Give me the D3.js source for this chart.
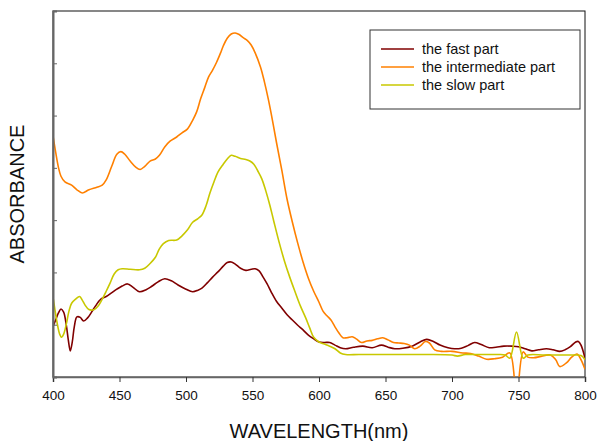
<!DOCTYPE html>
<html>
<head>
<meta charset="utf-8">
<script src="https://cdn.jsdelivr.net/npm/d3@7"></script>
<style>
  body { margin: 0; background: #fff; }
  svg { display: block; font-family: "Liberation Sans", Arial, sans-serif; }
</style>
</head>
<body>
<div id="chart"></div>
<script>
// ── Data (wavelength in nm, absorbance in arbitrary units) ──
const xTicks = [400, 450, 500, 550, 600, 650, 700, 750, 800];
const yTicks = [0, 1, 2, 3, 4, 5, 6, 7];

const fastPart = [
  [400, 0.96], [402, 1.09], [404, 1.22], [406, 1.30], [408, 1.24], [410, 0.99],
  [411.5, 0.71], [413, 0.50], [414.5, 0.67], [416, 0.96], [418, 1.15], [420.5, 1.14],
  [423, 1.07], [426, 1.13], [429, 1.24], [432, 1.36], [436, 1.49], [440, 1.54],
  [444, 1.61], [448, 1.68], [452, 1.74], [456, 1.78], [460, 1.72], [465, 1.63],
  [470, 1.67], [474, 1.73], [479, 1.82], [484, 1.88], [489, 1.84], [494, 1.76],
  [500, 1.68], [505, 1.63], [509, 1.66], [512, 1.70], [516, 1.80], [520, 1.91],
  [524, 2.01], [528, 2.12], [531, 2.19], [534, 2.20], [537, 2.16], [541, 2.08],
  [545, 2.04], [549, 2.06], [552, 2.07], [555, 2.03], [558, 1.91], [561, 1.78],
  [564, 1.63], [568, 1.45], [572, 1.32], [576, 1.19], [580, 1.09], [584, 0.99],
  [588, 0.90], [592, 0.80], [596, 0.73], [600, 0.67], [604, 0.66], [608, 0.66],
  [612, 0.61], [616, 0.56], [620, 0.54], [626, 0.57], [633, 0.59], [640, 0.56],
  [647, 0.61], [652, 0.57], [657, 0.54], [663, 0.55], [670, 0.59], [676, 0.67],
  [681, 0.72], [686, 0.68], [691, 0.61], [697, 0.56], [702, 0.54], [707, 0.55],
  [712, 0.60], [717, 0.66], [722, 0.62], [728, 0.56], [733, 0.57], [739, 0.59],
  [745, 0.59], [750, 0.58], [755, 0.54], [760, 0.50], [765, 0.52], [771, 0.54],
  [776, 0.52], [781, 0.49], [785, 0.52], [789, 0.58], [793, 0.67], [795, 0.68],
  [797, 0.61], [800, 0.36]
];

const intermediatePart = [
  [400, 4.61], [402, 4.30], [404, 4.02], [406, 3.84], [409, 3.73], [414, 3.67],
  [418, 3.58], [422, 3.52], [427, 3.58], [433, 3.63], [437, 3.67], [440, 3.77],
  [444, 4.02], [448, 4.26], [451, 4.31], [454, 4.26], [458, 4.13], [462, 4.02],
  [465.5, 3.97], [469, 4.03], [473, 4.13], [477, 4.17], [480, 4.24], [484, 4.40],
  [488, 4.51], [493, 4.59], [497, 4.67], [501, 4.74], [505, 4.91], [508, 5.07],
  [511, 5.32], [514, 5.53], [517, 5.74], [520, 5.87], [523, 6.02], [526, 6.20],
  [528, 6.33], [531, 6.48], [534, 6.56], [537, 6.58], [540, 6.55], [543, 6.49],
  [546, 6.44], [549, 6.35], [552, 6.20], [556, 5.93], [559, 5.64], [562, 5.30],
  [565, 4.91], [568, 4.49], [572, 3.96], [576, 3.40], [580, 2.96], [584, 2.56],
  [588, 2.20], [592, 1.89], [596, 1.64], [600, 1.43], [603, 1.26], [606, 1.17],
  [609, 1.09], [612, 0.96], [615, 0.84], [618, 0.75], [621, 0.75], [625, 0.77],
  [628, 0.73], [632, 0.66], [636, 0.69], [640, 0.70], [644, 0.73], [648, 0.75],
  [652, 0.71], [656, 0.66], [660, 0.65], [664, 0.64], [668, 0.61], [672, 0.54],
  [676, 0.59], [680, 0.68], [683, 0.65], [687, 0.52], [692, 0.49], [700, 0.49],
  [708, 0.46], [714, 0.45], [720, 0.40], [726, 0.34], [732, 0.35], [738, 0.38],
  [743.5, 0.46], [748.5, -0.35], [753.5, 0.48], [757, 0.38], [762, 0.37], [766, 0.39],
  [774, 0.42], [778, 0.33], [781, 0.20], [786, 0.27], [790, 0.38], [794, 0.44],
  [797, 0.33], [800, 0.15]
];

const slowPart = [
  [400, 1.53], [401.5, 1.28], [403, 1.05], [405, 0.82], [406.5, 0.76], [408, 0.82],
  [410, 1.01], [412, 1.26], [414, 1.41], [417, 1.49], [420, 1.54], [422, 1.47],
  [424, 1.38], [427, 1.29], [431, 1.29], [434, 1.36], [437, 1.49], [440, 1.64],
  [443, 1.80], [446, 1.97], [449, 2.05], [452, 2.07], [458, 2.06], [465, 2.05],
  [469, 2.08], [473, 2.17], [477, 2.29], [480, 2.45], [483, 2.55], [487, 2.61],
  [493, 2.62], [497, 2.70], [501, 2.81], [505, 2.96], [509, 3.03], [512, 3.10],
  [515, 3.27], [518, 3.52], [521, 3.73], [524, 3.92], [528, 4.07], [531, 4.17],
  [534, 4.24], [537, 4.22], [541, 4.18], [545, 4.16], [548, 4.13], [551, 4.07],
  [554, 3.94], [557, 3.79], [560, 3.56], [563, 3.29], [566, 2.98], [570, 2.58],
  [574, 2.22], [578, 1.91], [582, 1.63], [586, 1.36], [590, 1.13], [593, 0.94],
  [596, 0.76], [600, 0.67], [604, 0.63], [608, 0.59], [612, 0.54], [616, 0.46],
  [620, 0.43], [630, 0.43], [650, 0.43], [680, 0.43], [700, 0.42], [704, 0.40],
  [710, 0.43], [720, 0.43], [735, 0.43], [740, 0.42], [743.5, 0.36], [748.5, 0.86],
  [753.5, 0.36], [757, 0.42], [770, 0.42], [790, 0.42], [797, 0.41], [800, 0.33]
];

const seriesNames = ['the fast part', 'the intermediate part', 'the slow part'];
const seriesColors = ['#800000', '#ff8000', '#c8c800'];
const seriesData = [fastPart, intermediatePart, slowPart];

// ── Layout ──
const W = 597, H = 441;
const margin = { top: 11, right: 12, bottom: 64, left: 53 };
const width = W - margin.left - margin.right;
const height = H - margin.top - margin.bottom;

const svg = d3.select('#chart').append('svg')
  .attr('width', W).attr('height', H);

const g = svg.append('g')
  .attr('transform', `translate(${margin.left},${margin.top})`);

const x = d3.scaleLinear().domain([400, 800]).range([0, width]);
const y = d3.scaleLinear().domain([0, 7]).range([height, 0]);

g.append('clipPath').attr('id', 'clip')
  .append('rect').attr('width', width).attr('height', height);

// Frame (top + right)
g.append('rect')
  .attr('width', width).attr('height', height)
  .attr('fill', 'none').attr('stroke', '#111').attr('stroke-width', 1);

// Curves
const lineGen = d3.line()
  .x(d => x(d[0])).y(d => y(d[1]))
  .curve(d3.curveCatmullRom.alpha(0.5));

seriesData.forEach((data, i) => {
  g.append('path').datum(data)
    .attr('clip-path', 'url(#clip)')
    .attr('fill', 'none')
    .attr('stroke', seriesColors[i])
    .attr('stroke-width', 1.6)
    .attr('stroke-linejoin', 'round')
    .attr('d', lineGen);
});

// Axes
const xAxis = g.append('g').attr('transform', `translate(0,${height})`)
  .call(d3.axisBottom(x).tickValues(xTicks).tickSize(5).tickPadding(8));
xAxis.select('.domain').attr('stroke', '#666').attr('stroke-width', 1.6);
xAxis.selectAll('line').attr('stroke', '#333');
xAxis.selectAll('text').attr('fill', '#111').style('font-size', '13.5px')
  .style('font-family', '"Liberation Sans", Arial, sans-serif');

const yAxis = g.append('g')
  .call(d3.axisLeft(y).tickValues(yTicks).tickSize(-4).tickFormat(''));
yAxis.select('.domain').attr('stroke', '#666').attr('stroke-width', 2);
yAxis.selectAll('line').attr('stroke', '#666');

// Axis titles
svg.append('text')
  .attr('x', margin.left + width / 2).attr('y', 438)
  .attr('text-anchor', 'middle')
  .style('font-size', '20px').attr('fill', '#111')
  .text('WAVELENGTH(nm)');

svg.append('text')
  .attr('transform', `translate(24,${margin.top + height / 2}) rotate(-90)`)
  .attr('text-anchor', 'middle')
  .style('font-size', '20px').attr('fill', '#111')
  .text('ABSORBANCE');

// Legend
const legend = svg.append('g').attr('transform', 'translate(370,30)');
legend.append('rect')
  .attr('width', 210).attr('height', 79)
  .attr('fill', '#fff').attr('stroke', '#333').attr('stroke-width', 1);
seriesNames.forEach((name, i) => {
  legend.append('line')
    .attr('x1', 11).attr('x2', 44)
    .attr('y1', 19 + i * 18).attr('y2', 19 + i * 18)
    .attr('stroke', seriesColors[i]).attr('stroke-width', 1.5);
  legend.append('text')
    .attr('x', 52).attr('y', 19 + i * 18 + 5)
    .style('font-size', '14.5px').attr('fill', '#111')
    .text(name);
});
</script>
</body>
</html>
